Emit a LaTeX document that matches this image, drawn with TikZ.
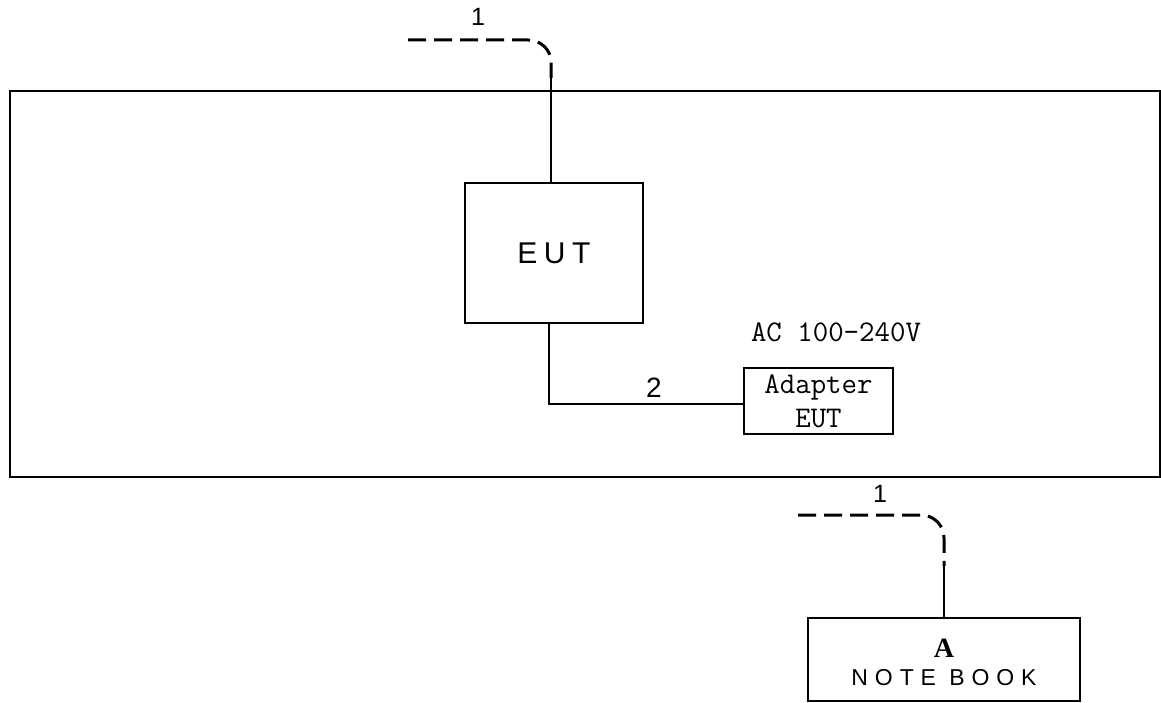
\documentclass[tikz,border=0pt]{standalone}
\usepackage{fontspec}
\setmainfont{Liberation Serif}
\setsansfont{Liberation Sans}
\usetikzlibrary{positioning,calc}

\tikzset{
  box/.style={draw, line width=1.2pt, inner sep=0pt},
  cable/.style={line width=1.2pt},
  wire/.style={line width=3pt, dash pattern=on 18pt off 8pt},
  lbl/.style={font=\sffamily\fontsize{25}{25}\selectfont, inner sep=0pt},
  mono/.style={font=\ttfamily\fontsize{30}{34}\selectfont}
}

\begin{document}
\begin{tikzpicture}[x=1pt, y=-1pt]
  \useasboundingbox (0,0) rectangle (1161,703);

  % Define boxes
  \node[box, minimum width=1150, minimum height=386] (table) at (585,284) {};
  \node[box, minimum width=178, minimum height=140,
        font=\sffamily\addfontfeature{LetterSpace=22}\fontsize{30}{30}\selectfont] (eut) at (554,253) {EUT};
  \node[box, mono, line width=1.6pt, minimum width=149, minimum height=66, align=center] (adapter) at (818.5,401) {Adapter\\EUT};
  \node[box, minimum width=272, minimum height=83] (nb) at (944,659.5) {};
  \node[anchor=base, inner sep=0pt, font=\bfseries\fontsize{28}{28}\selectfont] (nbA) at (944,657) {A};
  \node[anchor=base, inner sep=0pt,
        font=\sffamily\addfontfeature{LetterSpace=30}\fontsize{23}{23}\selectfont] (nbname) at (944,685) {NOTE BOOK};

  % Labels
  \node[mono, inner sep=0pt] (ac) at (836,332) {AC 100-240V};
  \node[lbl] (n1a) at (478,17) {1};
  \node[lbl] (n1b) at (880,494) {1};
  \node[lbl, font=\sffamily\fontsize{28}{28}\selectfont] (n2) at (654,388) {2};

  % Cable ends
  \coordinate (t1) at ($(eut.north)+(-3,0)$);
  \coordinate (t2) at (551,78);
  \coordinate (t3) at (551,62);
  \coordinate (t4) at (528,40);
  \coordinate (t5) at (408,40);
  \coordinate (b1) at (nb.north);
  \coordinate (b2) at (944,566);
  \coordinate (b3) at (944,538);
  \coordinate (b4) at (921,515);
  \coordinate (b5) at (798,515);
  \coordinate (m1) at ($(eut.south)+(-5,0)$);
  \coordinate (m2) at (549,404);
  \coordinate (m3) at (adapter.west |- m2);

  % Draw cables
  \draw[cable] (t1) -- (t2);
  \draw[wire] (t5) -- (t4) to[out=0, in=90] (t3) -- (t2);
  \draw[cable] (b1) -- (b2);
  \draw[wire] (b5) -- (b4) to[out=0, in=90] (b3) -- (b2);
  \draw[cable] (m1) -- (m2) -- (m3);
\end{tikzpicture}
\end{document}
